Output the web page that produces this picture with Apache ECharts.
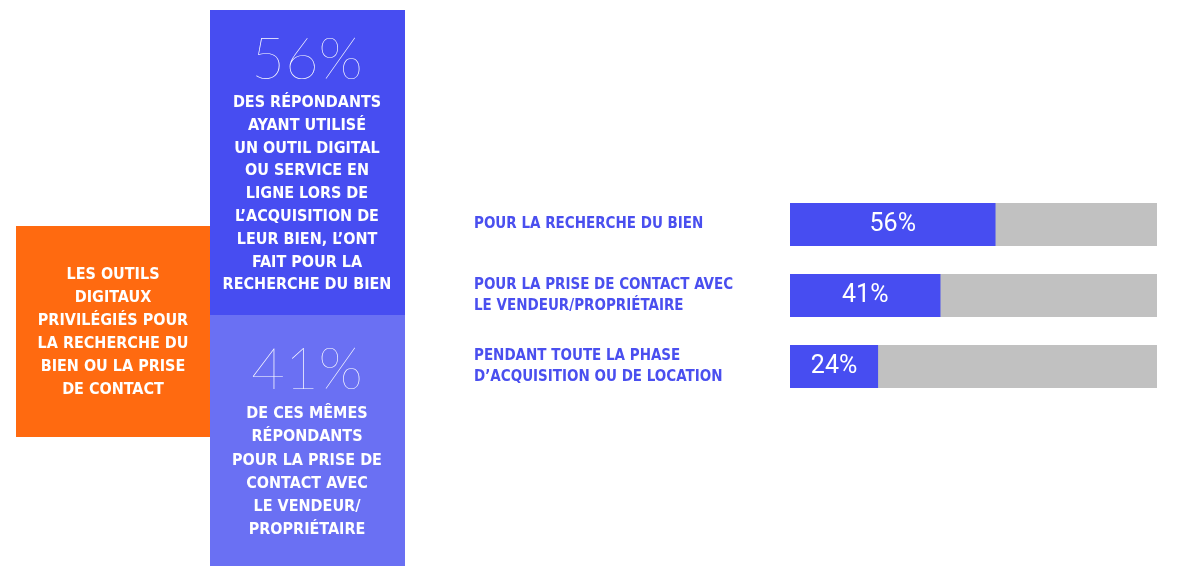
<!DOCTYPE html>
<html><head><meta charset="utf-8">
<script src="https://cdn.jsdelivr.net/npm/echarts@6/dist/echarts.min.js"></script>
<style>html,body{margin:0;padding:0;background:#fff}#c{width:1200px;height:577px}</style>
</head><body><div id="c"></div>
<script>
const categories = ["POUR LA RECHERCHE DU BIEN", "POUR LA PRISE DE CONTACT AVEC\nLE VENDEUR/PROPRIÉTAIRE", "PENDANT TOUTE LA PHASE\nD’ACQUISITION OU DE LOCATION"];
const values = [56, 41, 24];
const maxValue = 100;
const sideTitle = "LES OUTILS\nDIGITAUX\nPRIVILÉGIÉS POUR\nLA RECHERCHE DU\nBIEN OU LA PRISE\nDE CONTACT";
const panelValues = ["56%", "41%"];
const panelTexts = [
  "DES RÉPONDANTS\nAYANT UTILISÉ\nUN OUTIL DIGITAL\nOU SERVICE EN\nLIGNE LORS DE\nL’ACQUISITION DE\nLEUR BIEN, L’ONT\nFAIT POUR LA\nRECHERCHE DU BIEN",
  "DE CES MÊMES\nRÉPONDANTS\nPOUR LA PRISE DE\nCONTACT AVEC\nLE VENDEUR/\nPROPRIÉTAIRE"
];

const BLUE = "#474DF1", BLUE2 = "#6A70F3", ORANGE = "#FF6A10", GRAY = "#C1C1C1";
const boldFont = "bold 16px 'Liberation Sans Narrow', 'DejaVu Sans Condensed', sans-serif";
const thinFont = "100 58px Lato, Roboto, sans-serif";

const chart = echarts.init(document.getElementById('c'), null, {renderer: 'canvas'});
chart.setOption({
  animation: false,
  grid: {left: 790, width: 367, top: 189, height: 213},
  xAxis: {type: 'value', min: 0, max: maxValue, show: false},
  yAxis: {
    type: 'category', data: categories, inverse: true,
    axisLine: {show: false}, axisTick: {show: false}, splitLine: {show: false},
    axisLabel: {
      align: 'left', margin: 316, color: "#4A4FEF",
      fontFamily: "'Liberation Sans Narrow', 'DejaVu Sans Condensed', sans-serif",
      fontWeight: 'bold', fontSize: 15, lineHeight: 21
    }
  },
  series: [{
    type: 'bar', data: values, barWidth: 43,
    itemStyle: {color: BLUE},
    showBackground: true, backgroundStyle: {color: GRAY},
    label: {
      show: true, position: 'inside', formatter: '{c}%', color: '#fff',
      fontFamily: "'Liberation Sans Narrow', Roboto, sans-serif", fontWeight: 'normal', fontSize: 25
    }
  }],
  graphic: [
    {type: 'rect', shape: {x: 16, y: 226, width: 194, height: 211}, style: {fill: ORANGE}},
    {type: 'text', style: {text: sideTitle, x: 113, y: 332, textAlign: 'center', textVerticalAlign: 'middle',
      font: boldFont, fill: '#fff', lineHeight: 23}},
    {type: 'rect', shape: {x: 210, y: 10, width: 195, height: 305}, style: {fill: BLUE}},
    {type: 'rect', shape: {x: 210, y: 315, width: 195, height: 251}, style: {fill: BLUE2}},
    {type: 'text', style: {text: panelValues[0], x: 307, y: 60, textAlign: 'center', textVerticalAlign: 'middle',
      font: thinFont, fill: '#fff'}},
    {type: 'text', style: {text: panelTexts[0], x: 307, y: 194, textAlign: 'center', textVerticalAlign: 'middle',
      font: boldFont, fill: '#fff', lineHeight: 22.8}},
    {type: 'text', style: {text: panelValues[1], x: 307, y: 370, textAlign: 'center', textVerticalAlign: 'middle',
      font: thinFont, fill: '#fff'}},
    {type: 'text', style: {text: panelTexts[1], x: 307, y: 472, textAlign: 'center', textVerticalAlign: 'middle',
      font: boldFont, fill: '#fff', lineHeight: 23.2}}
  ]
});
</script></body></html>
